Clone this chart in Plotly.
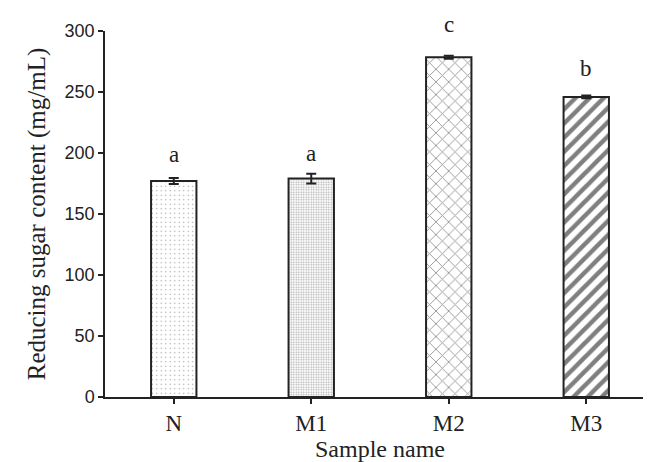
import plotly.graph_objects as go

categories = ["N", "M1", "M2", "M3"]
values = [177, 179, 278.5, 246]
errors = [2.5, 4, 1.2, 1.2]
letters = ["a", "a", "c", "b"]
letter_y = [199, 200, 305, 269]
pattern_shapes = [".", ".", "x", "/"]
pattern_sizes = [4.5, 2.5, 9, 10]
pattern_solidity = [0.07, 0.35, 0.2, 0.45]
pattern_colors = ["#333333", "#555555", "#333333", "#000000"]
y_ticks = [0, 50, 100, 150, 200, 250, 300]
y_range = [0, 300]

INK = "#222222"

fig = go.Figure()
fig.add_trace(go.Bar(
    x=categories, y=values,
    width=0.33,
    marker=dict(
        color="white",
        line=dict(color=INK, width=2),
        pattern=dict(shape=pattern_shapes, size=pattern_sizes,
                     solidity=pattern_solidity, fgcolor=pattern_colors,
                     bgcolor="white", fillmode="overlay"),
    ),
    error_y=dict(type="data", array=errors, visible=True,
                 color=INK, thickness=2, width=5),
    showlegend=False,
))

for c, l, ly in zip(categories, letters, letter_y):
    # letters above the axis top are placed in paper coordinates derived from the y range
    fig.add_annotation(x=c, xref="x", yref="paper",
                       y=(ly - y_range[0]) / (y_range[1] - y_range[0]),
                       xanchor="center", yanchor="middle",
                       text=l, showarrow=False,
                       font=dict(family="Liberation Serif", size=23, color=INK))

fig.add_shape(type="line", xref="paper", yref="paper", x0=1, x1=1, y0=0, y1=-0.014,
              line=dict(color=INK, width=1.5))

fig.update_layout(
    width=651, height=462,
    margin=dict(l=97, r=4, t=23, b=73),
    paper_bgcolor="white", plot_bgcolor="white",
    xaxis=dict(
        range=[-0.5, 3.5], showline=True, linecolor=INK, linewidth=1.5,
        ticks="outside", ticklen=5, tickcolor=INK, tickwidth=1.5,
        tickfont=dict(family="Liberation Serif", size=23, color=INK),
        title=dict(text="Sample name", font=dict(family="Liberation Serif", size=24, color=INK), standoff=4),
        showgrid=False,
    ),
    yaxis=dict(
        range=y_range, tickvals=y_ticks, showline=True, linecolor=INK, linewidth=1.5,
        ticks="outside", ticklen=5, tickcolor=INK, tickwidth=1.5,
        tickfont=dict(family="Liberation Sans", size=18, color=INK),
        title=dict(text="Reducing sugar content (mg/mL)", font=dict(family="Liberation Serif", size=25, color=INK), standoff=12),
        showgrid=False, zeroline=False,
    ),
)

fig.write_html("out.html")
